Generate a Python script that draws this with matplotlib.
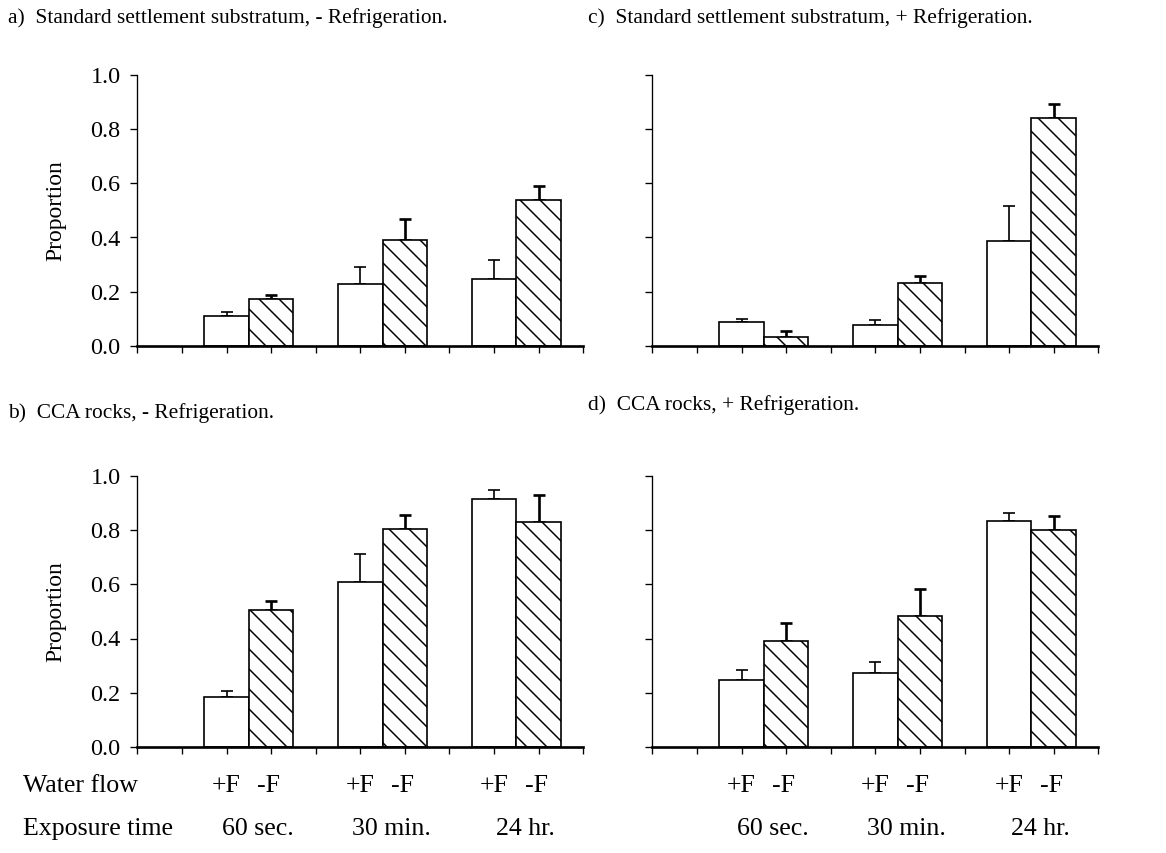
import matplotlib.pyplot as plt
import numpy as np

plt.rcParams['font.family'] = ['Liberation Serif', 'DejaVu Serif']
plt.rcParams['hatch.linewidth'] = 0.9

# proportions: (+F, -F) for 60 sec, 30 min, 24 hr
exposure = ['60 sec.', '30 min.', '24 hr.']
flow = ['+F', '-F']

a_plus = [0.110, 0.227, 0.246]
a_plus_err = [0.016, 0.065, 0.071]
a_minus = [0.172, 0.389, 0.539]
a_minus_err = [0.014, 0.078, 0.052]

b_plus = [0.184, 0.609, 0.915]
b_plus_err = [0.023, 0.103, 0.034]
b_minus = [0.504, 0.804, 0.831]
b_minus_err = [0.033, 0.053, 0.100]

c_plus = [0.086, 0.078, 0.388]
c_plus_err = [0.011, 0.017, 0.127]
c_minus = [0.034, 0.232, 0.842]
c_minus_err = [0.021, 0.024, 0.052]

d_plus = [0.247, 0.274, 0.835]
d_plus_err = [0.038, 0.038, 0.028]
d_minus = [0.389, 0.485, 0.801]
d_minus_err = [0.067, 0.099, 0.053]

titles = ['a)  Standard settlement substratum, - Refrigeration.',
          'b)  CCA rocks, - Refrigeration.',
          'c)  Standard settlement substratum, + Refrigeration.',
          'd)  CCA rocks, + Refrigeration.']

W, H = 1166, 853
fig = plt.figure(figsize=(W / 120, H / 120), dpi=120)

ax_w = 446 / W
ax_h = 270.5 / H
left1, left2 = 137.3 / W, 652.3 / W
top_bot = (H - 345.7) / H
bot_bot = (H - 746.7) / H

ax_a = fig.add_axes([left1, top_bot, ax_w, ax_h])
ax_b = fig.add_axes([left1, bot_bot, ax_w, ax_h])
ax_c = fig.add_axes([left2, top_bot, ax_w, ax_h])
ax_d = fig.add_axes([left2, bot_bot, ax_w, ax_h])

x_plus = np.array([2, 5, 8])
x_minus = x_plus + 1
FS_TICK = 14.5
FS_TITLE = 12.8
FS_BOTTOM = 15.5


def draw(ax, plus, plus_err, minus, minus_err, show_labels):
    ax.bar(x_plus, plus, width=1.0, color='white', edgecolor='black', linewidth=1.0, zorder=2)
    ax.bar(x_minus, minus, width=1.0, color='white', edgecolor='black', linewidth=1.0,
           hatch='\\\\', zorder=2)
    ax.errorbar(x_plus, plus, yerr=[np.zeros(3), plus_err], fmt='none', ecolor='black',
                elinewidth=1.0, capsize=3.5, capthick=1.0, zorder=1)
    ax.errorbar(x_minus, minus, yerr=[np.zeros(3), minus_err], fmt='none', ecolor='black',
                elinewidth=1.6, capsize=3.5, capthick=1.6, zorder=1)
    ax.set_xlim(0, 10)
    ax.set_ylim(0, 1.0)
    ax.set_xticks(np.arange(0, 11))
    ax.set_xticklabels([])
    ax.set_yticks(np.arange(0, 1.01, 0.2))
    for s in ['top', 'right']:
        ax.spines[s].set_visible(False)
    ax.spines['bottom'].set_linewidth(1.6)
    ax.spines['left'].set_linewidth(0.8)
    ax.tick_params(axis='x', direction='out', length=4, width=0.8)
    ax.tick_params(axis='y', direction='out', length=4, width=0.8, pad=6, labelsize=FS_TICK)
    if show_labels:
        ax.set_yticklabels(['%.1f' % v for v in np.arange(0, 1.01, 0.2)])
        ax.set_ylabel('Proportion', fontsize=14.2)
        ax.yaxis.set_label_coords(-0.158, 0.5)
    else:
        ax.set_yticklabels([])


draw(ax_a, a_plus, a_plus_err, a_minus, a_minus_err, True)
draw(ax_b, b_plus, b_plus_err, b_minus, b_minus_err, True)
draw(ax_c, c_plus, c_plus_err, c_minus, c_minus_err, False)
draw(ax_d, d_plus, d_plus_err, d_minus, d_minus_err, False)

# panel titles
fig.text(8 / W, 1 - 18 / H, titles[0], fontsize=FS_TITLE, va='center', ha='left')
fig.text(8 / W, 1 - 413 / H, titles[1], fontsize=FS_TITLE, va='center', ha='left')
fig.text(588 / W, 1 - 18 / H, titles[2], fontsize=FS_TITLE, va='center', ha='left')
fig.text(588 / W, 1 - 405 / H, titles[3], fontsize=FS_TITLE, va='center', ha='left')

# bottom labels under the lower panels
fig.text(23 / W, 1 - 786 / H, 'Water flow', fontsize=FS_BOTTOM, va='center', ha='left')
fig.text(23 / W, 1 - 829 / H, 'Exposure time', fontsize=FS_BOTTOM, va='center', ha='left')
for ax in [ax_b, ax_d]:
    tr = ax.get_xaxis_transform()
    for i in range(3):
        ax.text(x_plus[i], (786 - 746.7) / -270.5, flow[0], transform=tr, fontsize=FS_BOTTOM,
                ha='center', va='center', clip_on=False)
        ax.text(x_minus[i] - 0.05, (786 - 746.7) / -270.5, flow[1], transform=tr, fontsize=FS_BOTTOM,
                ha='center', va='center', clip_on=False)
        ax.text(x_plus[i] + 0.7, (829 - 746.7) / -270.5, exposure[i], transform=tr, fontsize=FS_BOTTOM,
                ha='center', va='center', clip_on=False)

fig.savefig('out.png', dpi=120)
